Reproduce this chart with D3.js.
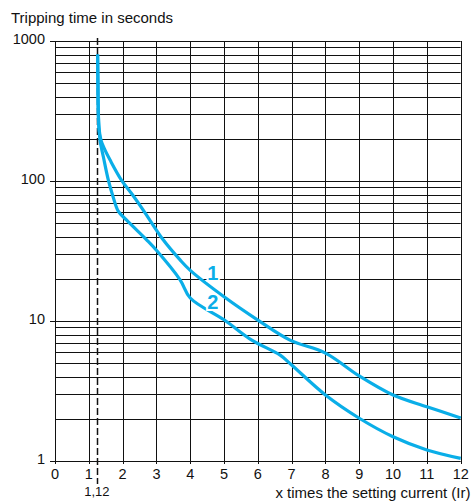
<!DOCTYPE html>
<html><head><meta charset="utf-8">
<script src="https://cdn.jsdelivr.net/npm/d3@7"></script>
<style>
html,body{margin:0;padding:0;background:#fff;}
svg{display:block;font-family:"Liberation Sans",Arial,sans-serif;}
</style></head>
<body><svg id="c" width="474" height="502"></svg>
<script>
const xTicks = [0,1,2,3,4,5,6,7,8,9,10,11,12];
const yTicks = [1,10,100,1000];
const yTickLabels = ["1","10","100","1000"];
const yTitle = "Tripping time in seconds";
const xTitle = "x times the setting current (Ir)";
const markerX = 1.24;
const markerLabel = "1,12";
// curve 1 (upper)
const curve1X = [1.26,1.27,1.28,1.30,1.36,1.47,1.63,1.97,2.27,2.61,3.2,3.7,4.0,5.0,6.0,6.95,8.0,9.0,10.0,11.0,12.0];
const curve1T = [800,500,320,240,196,168,141,101,81,62,38,27.3,23,14.9,10.15,7.3,5.9,4.05,2.96,2.44,2.03];
// curve 2 (lower)
const curve2X = [1.26,1.27,1.28,1.30,1.34,1.43,1.58,1.72,1.87,2.12,2.71,3.0,3.7,4.0,5.0,5.82,6.66,7.0,8.0,9.0,10.0,11.0,12.0];
const curve2T = [800,500,320,240,190,149,101,77,61,52.5,38,32,19.7,14.6,10.2,7.3,5.7,4.85,2.96,2.02,1.49,1.2,1.045];
const curveLabels = ["1","2"];
const labelX = [4.67,4.67];
const labelT = [19.5,12.2];

const svg = d3.select("#c");
const x = d3.scaleLinear().domain([0,12]).range([55,460.7]);
const y = d3.scaleLog().domain([1,1000]).range([461,41]);

// horizontal grid (log minor lines)
const minor = [];
for (let d=1; d<1000; d*=10) for (let k=1;k<=9;k++) minor.push(d*k);
minor.push(1000);
const g = svg.append("g");
g.selectAll("line.h").data(minor).enter().append("line")
  .attr("x1",x(0)).attr("x2",x(12))
  .attr("y1",d=>Math.round(y(d))+0.5).attr("y2",d=>Math.round(y(d))+0.5)
  .attr("stroke","#111").attr("stroke-width",1);
g.selectAll("line.v").data(xTicks).enter().append("line")
  .attr("x1",d=>Math.round(x(d))+0.5).attr("x2",d=>Math.round(x(d))+0.5)
  .attr("y1",y(1000)).attr("y2",y(1)+3)
  .attr("stroke","#111").attr("stroke-width",1);
// y major ticks
g.selectAll("line.yt").data(yTicks).enter().append("line")
  .attr("x1",x(0)-5).attr("x2",x(0))
  .attr("y1",d=>Math.round(y(d))+0.5).attr("y2",d=>Math.round(y(d))+0.5)
  .attr("stroke","#111");
// y tick labels
g.selectAll("text.yl").data(yTicks).enter().append("text")
  .attr("x",x(0)-10).attr("y",d=>y(d)+3)
  .attr("text-anchor","end").attr("font-size","14.5px").attr("fill","#111")
  .text((d,i)=>yTickLabels[i]);
// x tick labels
g.selectAll("text.xl").data(xTicks).enter().append("text")
  .attr("x",d=>x(d)).attr("y",y(1)+18)
  .attr("text-anchor","middle").attr("font-size","14.5px").attr("fill","#111")
  .text(d=>d);
// titles
svg.append("text").attr("x",11).attr("y",23).attr("font-size","15px").attr("fill","#111").text(yTitle);
svg.append("text").attr("x",470.5).attr("y",498).attr("text-anchor","end").attr("font-size","15px").attr("fill","#111").text(xTitle);

// dashed marker
svg.append("line")
  .attr("x1",Math.round(x(markerX))+0.5).attr("x2",Math.round(x(markerX))+0.5)
  .attr("y1",y(1000)-3).attr("y2",y(1)+23)
  .attr("stroke","#111").attr("stroke-width",1.5).attr("stroke-dasharray","7,3");
svg.append("text").attr("x",x(markerX)).attr("y",y(1)+35)
  .attr("text-anchor","middle").attr("font-size","13px").attr("fill","#111").text(markerLabel);

// curves
const line = d3.line().x(d=>x(d[0])).y(d=>y(d[1])).curve(d3.curveCatmullRom.alpha(0.5));
const c1 = curve1X.map((v,i)=>[v,curve1T[i]]);
const c2 = curve2X.map((v,i)=>[v,curve2T[i]]);
svg.selectAll("path.curve").data([c1,c2]).enter().append("path")
  .attr("d",line).attr("fill","none").attr("stroke","#0aaee8")
  .attr("stroke-width",3.2).attr("stroke-linecap","butt");

// curve labels
svg.selectAll("text.cl").data(curveLabels).enter().append("text")
  .attr("x",(d,i)=>x(labelX[i])).attr("y",(d,i)=>y(labelT[i]))
  .attr("text-anchor","middle").attr("font-size","20px").attr("font-weight","bold")
  .attr("fill","#0aaee8").attr("stroke","#fff").attr("stroke-width",4)
  .attr("paint-order","stroke").text(d=>d);
</script></body></html>
